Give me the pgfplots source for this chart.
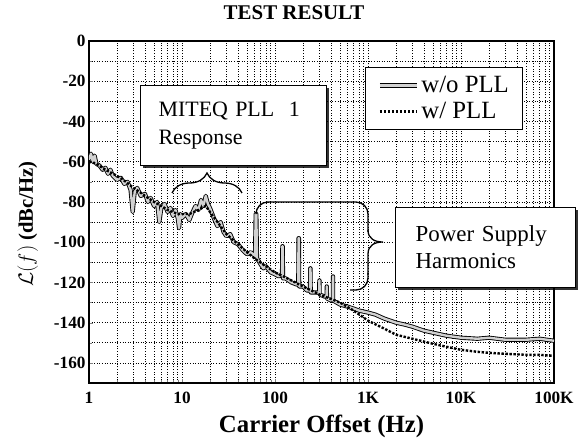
\documentclass[border=0pt]{standalone}
\usepackage{pgfplots}
\pgfplotsset{compat=1.18}
\usepackage{fontspec}
\setmainfont{Liberation Serif}
\usetikzlibrary{decorations.pathreplacing,shadows,calc}

\pgfplotstableread{
f y
1 -59
1.05 -56
1.1 -60
1.15 -57
1.2 -61
1.3 -62
1.4 -64
1.5 -63
1.6 -66
1.7 -64
1.8 -67
2 -69
2.2 -68
2.4 -71
2.6 -70
2.8 -74
2.95 -85
3.1 -75
3.3 -73
3.6 -77
4 -76
4.3 -80
4.6 -78
5 -82
5.4 -80
5.7 -90
6 -83
6.5 -81
7 -85
7.5 -83
8 -87
8.5 -84
9 -88
9.3 -93
9.6 -86
10 -88
11 -86
12 -89
13 -85
14 -82
15 -84
16 -79
17 -82
18 -77
19 -81
20 -83
22 -88
24 -92
26 -90
28 -95
30 -97
33 -96
36 -100
40 -101
45 -104
50 -106
55 -105
61 -107
62 -86
63 -86
64 -108
70 -111
75 -113
80 -112
90 -115
100 -116
110 -117
119 -116
120 -102
121 -102
122 -118
130 -118
150 -120
170 -121
178 -121
179 -98
181 -98
182 -122
200 -122
220 -124
238 -124
239 -113
241 -113
242 -125
270 -125
299 -125
300 -119
301 -119
302 -126
340 -127
359 -127
360 -122
361 -122
362 -128
400 -129
419 -128
420 -117
421 -117
422 -129
500 -131
600 -132
700 -133
800 -134
1000 -135
1200 -136
1500 -138
2000 -140
2500 -141
3000 -142
4000 -144
5000 -145
7000 -146.5
10000 -147.5
15000 -148
20000 -147.5
30000 -148.5
50000 -148.5
70000 -148
100000 -149
}\woPLL

\pgfplotstableread{
f y
1 -60
1.2 -61
1.5 -64
2 -67
2.5 -70
3 -73
3.5 -75
4 -77
5 -80
6 -82
7 -84
8 -85
9 -86
10 -86
12 -86
15 -84
18 -82
20 -85
25 -91
30 -96
40 -101
50 -105
60 -108
80 -112
100 -115
150 -119
200 -122
300 -126
500 -130
700 -134
1000 -139
1500 -143
2000 -146
3000 -148
5000 -150.5
7000 -152
10000 -153.5
15000 -154.5
20000 -155
30000 -155.5
50000 -156
70000 -156
100000 -156.5
}\wPLL

\begin{document}
\begin{tikzpicture}
\path[use as bounding box] (-89bp,-65bp) rectangle (491bp,383bp);
\begin{axis}[
  scale only axis, width=465bp, height=342bp,
  xmode=log, xmin=1, xmax=100000, ymin=-170, ymax=0,
  xtick={1,10,100,1000,10000,100000},
  xticklabels={1,10,100,1K,10K,100K},
  ytick={0,-20,-40,-60,-80,-100,-120,-140,-160},
  yticklabels={0,-20,-40,-60,-80,-100,-120,-140,-160},
  minor ytick={-10,-30,-50,-70,-90,-110,-130,-150},
  grid=both,
  major grid style={black, line width=0.7pt, dash pattern=on 1pt off 1.6pt},
  minor grid style={black, line width=0.7pt, dash pattern=on 1pt off 1.6pt},
  axis line style={line width=1.6pt},
  tick align=inside,
  xtick pos=bottom, ytick pos=left,
  ticklabel style={font=\bfseries\LARGE},
  xticklabel style={yshift=-6bp},
  xlabel={Carrier Offset (Hz)},
  xlabel style={font=\bfseries\Huge, yshift=-4bp},
  ylabel={$\mathcal{L}(f)$ (dBc/Hz)},
  ylabel style={font=\bfseries\huge, yshift=9bp, xshift=-12bp},
  legend style={at={(0.594,0.924)}, anchor=north west, draw=black, line width=1.2pt, fill=white,
    font=\Huge, inner xsep=12bp, inner ysep=7bp, row sep=4bp},
  legend cell align=left,
  legend image post style={xscale=2.2},
]
\addplot[gray!35, line width=2.4pt, line join=round, preaction={draw=black, line width=4.2pt, line join=round}] table[x=f,y=y] {\woPLL};
\addlegendentry{w/o PLL}
\addplot[black, line width=2.4pt, dash pattern=on 2.4pt off 1.6pt] table[x=f,y=y] {\wPLL};
\addlegendentry{w/ PLL}
\end{axis}
% title
\node[font=\fontsize{21}{25}\selectfont\bfseries] at (205bp,370bp) {TEST RESULT};
% MITEQ box
\node[draw, line width=1.2pt, fill=white, anchor=north west, minimum width=185bp, minimum height=80bp,
  text width=150bp, align=left, inner xsep=18bp, font=\fontsize{22}{28}\selectfont,
  drop shadow={shadow xshift=2.5bp, shadow yshift=-2.5bp, fill=black, opacity=0.8}]
  at (51bp,298bp) {MITEQ PLL\ \ 1\\Response};
\draw[line width=1.3pt, decorate, decoration={brace, amplitude=20bp, aspect=0.5}] (83bp,190bp) -- (153bp,190bp);
% Power supply box
\node[draw, line width=1.2pt, fill=white, anchor=north west, minimum width=177bp, minimum height=80bp,
  text width=140bp, align=left, inner xsep=20bp, font=\fontsize{23}{27}\selectfont,
  drop shadow={shadow xshift=2.5bp, shadow yshift=-2.5bp, fill=black, opacity=0.8}]
  at (306bp,176bp) {Power Supply\\Harmonics};
\draw[line width=1.3pt, rounded corners=12bp] (167bp,171bp) -- (167bp,181bp) -- (279bp,181bp) -- (279bp,151bp);
\draw[line width=1.3pt] (279bp,153bp) .. controls (279bp,144bp) and (286bp,141bp) .. (294bp,141bp)
   .. controls (286bp,141bp) and (279bp,138bp) .. (279bp,129bp) -- (279bp,108bp);
\draw[line width=1.3pt, rounded corners=12bp] (279bp,110bp) -- (279bp,93bp) -- (261bp,93bp);
\end{tikzpicture}
\end{document}
